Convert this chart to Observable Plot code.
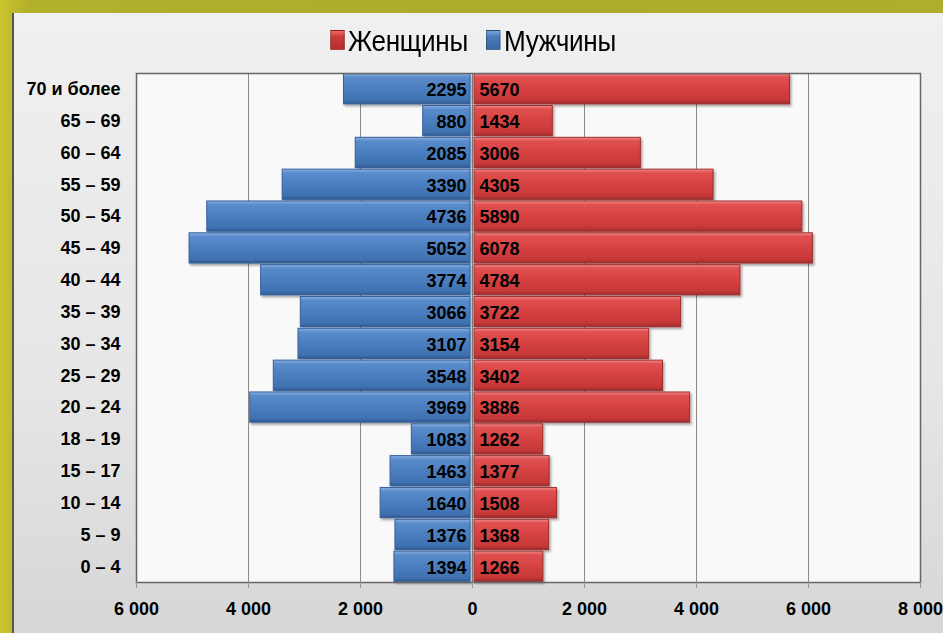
<!DOCTYPE html>
<html><head><meta charset="utf-8">
<script src="https://cdn.jsdelivr.net/npm/d3@7"></script>
<script src="https://cdn.jsdelivr.net/npm/@observablehq/plot@0.6"></script>
<style>
html,body{margin:0;padding:0;}
body{width:943px;height:633px;overflow:hidden;position:relative;
 background:linear-gradient(90deg,#c9c52e 0%,#b3b02c 3%,#aeab2c 50%,#b0ad2e 100%);
 font-family:"Liberation Sans",Arial,sans-serif;}
#panel{position:absolute;left:12px;top:13px;width:931px;height:620px;
 background:linear-gradient(180deg,#f0f0f0 0%,#e6e6e6 60%,#d6d6d6 100%);
 border-left:2px solid #555;box-sizing:border-box;}
#legend{position:absolute;left:0;top:25px;width:943px;text-align:center;font-size:29px;color:#000;
 transform:scaleX(0.9);transform-origin:486px 0;white-space:nowrap;letter-spacing:-0.3px;}
#legend span.sw{display:inline-block;width:14px;height:18px;margin-right:4px;vertical-align:1px;border:1px solid rgba(0,0,0,0.3);}
#legend span.it{margin:0 10px;}
#chart{position:absolute;left:0;top:63px;}
</style></head>
<body>
<div id="panel"></div>
<div id="legend"><span class="it"><span class="sw" style="background:linear-gradient(180deg,#ee6a68,#cf3a3a 30%,#b52f2f)"></span>Женщины</span><span class="it"><span class="sw" style="background:linear-gradient(180deg,#7aa3d8,#4a7ebf 30%,#3a68a3)"></span>Мужчины</span></div>
<div id="chart"></div>
<script>
const ages = ["70 и более","65 – 69","60 – 64","55 – 59","50 – 54","45 – 49","40 – 44","35 – 39","30 – 34","25 – 29","20 – 24","18 – 19","15 – 17","10 – 14","5 – 9","0 – 4"];
const men = [2295,880,2085,3390,4736,5052,3774,3066,3107,3548,3969,1083,1463,1640,1376,1394];
const women = [5670,1434,3006,4305,5890,6078,4784,3722,3154,3402,3886,1262,1377,1508,1368,1266];
const xTicks = [-6000,-4000,-2000,0,2000,4000,6000,8000];

const rows = [];
ages.forEach((a,i)=>{
  rows.push({age:a, sex:"Мужчины", value:-men[i], label:String(men[i])});
  rows.push({age:a, sex:"Женщины", value:women[i], label:String(women[i])});
});
const menRows = rows.filter(d=>d.sex==="Мужчины");
const womenRows = rows.filter(d=>d.sex==="Женщины");
const fmt = d => d===0 ? "0" : d3.format(",")(Math.abs(d)).replace(/,/g," ");
const FF = '"Liberation Sans",Arial,sans-serif';

const chart = Plot.plot({
  width:943, height:570,
  marginLeft:136, marginRight:23, marginTop:10, marginBottom:51,
  style:{fontFamily:FF, background:"transparent", color:"#000"},
  x:{domain:[-6000,8000], ticks:xTicks, tickFormat:fmt, label:null},
  y:{domain:ages, label:null, paddingInner:0.05, paddingOuter:0.02, round:false},
  marks:[
    Plot.frame({fill:"#f9f9f9", stroke:null}),
    Plot.ruleX(xTicks, {stroke:"#8a8a8a", strokeWidth:1}),
    Plot.barX(menRows, {x1:0, x2:"value", y:"age", fill:"url(#gBlue)", stroke:"#35609a", strokeWidth:1, insetRight:2}),
    Plot.barX(womenRows, {x1:0, x2:"value", y:"age", fill:"url(#gRed)", stroke:"#9c3030", strokeWidth:1, insetLeft:2}),
    Plot.text(menRows, {x:0, y:"age", text:"label", textAnchor:"end", dx:-6, dy:1, fontSize:18, fontWeight:"bold", fill:"#000"}),
    Plot.text(womenRows, {x:0, y:"age", text:"label", textAnchor:"start", dx:7, dy:1, fontSize:18, fontWeight:"bold", fill:"#000"}),
    Plot.frame({stroke:"#666", strokeWidth:1.5}),
    Plot.axisY({tickSize:0, tickPadding:16, fontSize:18, fontWeight:"bold"}),
    Plot.axisX({ticks:xTicks, tickFormat:fmt, tickSize:6, tickPadding:14, fontSize:18, fontWeight:"bold", stroke:"#999"})
  ]
});
const svg = d3.select(chart);
const defs = svg.insert("defs", ":first-child");
function grad(id, stops){
  const g = defs.append("linearGradient").attr("id",id).attr("x1",0).attr("y1",0).attr("x2",0).attr("y2",1);
  stops.forEach(([o,c])=>g.append("stop").attr("offset",o).attr("stop-color",c));
}
grad("gBlue", [[0,"#8bb2e3"],[0.12,"#5b8ccc"],[0.5,"#4a7ebf"],[0.88,"#3f71b0"],[1,"#2f5a92"]]);
grad("gRed", [[0,"#f08a88"],[0.12,"#e05050"],[0.5,"#d64141"],[0.88,"#c63838"],[1,"#9c2a2a"]]);
const f = defs.append("filter").attr("id","sh").attr("x","-5%").attr("y","-20%").attr("width","115%").attr("height","160%");
f.append("feDropShadow").attr("dx",1.5).attr("dy",2).attr("stdDeviation",1.2).attr("flood-opacity",0.35);
svg.selectAll('g[aria-label="bar"]').attr("filter","url(#sh)");
document.getElementById("chart").appendChild(chart);
</script>
</body></html>
